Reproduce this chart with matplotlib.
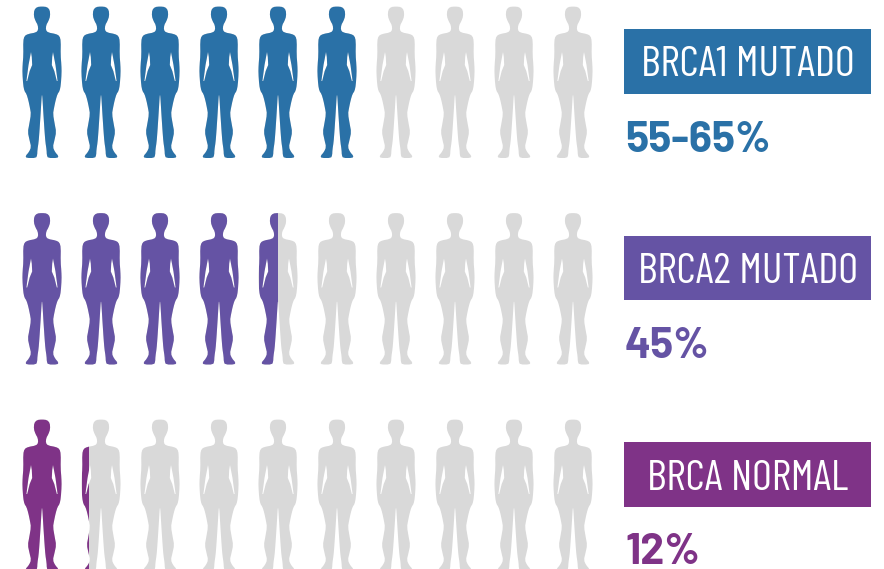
import matplotlib
matplotlib.use("Agg")
import matplotlib.pyplot as plt
import numpy as np
from matplotlib.path import Path
from matplotlib.patches import PathPatch, Rectangle
from matplotlib.transforms import Affine2D
from matplotlib import font_manager as fm

categories = ["BRCA1 MUTADO", "BRCA2 MUTADO", "BRCA NORMAL"]
value_labels = ["55-65%", "45%", "12%"]
filled_people = [6.0, 4.5, 1.2]
total_people = 10
colors = ["#2A71A7", "#6553A4", "#7F3387"]
grey = "#D9D9D9"

names = {f.name for f in fm.fontManager.ttflist}
if "Barlow Condensed" in names:
    label_font, label_size = "Barlow Condensed", 31
elif "Roboto Condensed" in names:
    label_font, label_size = "Roboto Condensed", 27
else:
    label_font, label_size = "Liberation Sans", 21
value_font = "Barlow" if "Barlow" in names else "Lato"

W, H = 884, 569
PX = 59.0      # horizontal pixels per person
PY = 206.5     # vertical pixels per row
fig = plt.figure(figsize=(W / 100, H / 100), dpi=100)
ax = fig.add_axes([0, 0, 1, 1])
ax.set_xlim(-42 / PX, (W - 42) / PX)
ax.set_ylim((H - 7) / PY, -7 / PY)
ax.axis("off")

# half silhouette: offset from centre, depth from top, in reference pixels
half = [(0, -.5), (5, 0), (7.8, 3), (8.2, 9), (6.5, 14), (4.2, 18), (3.8, 23), (6, 25.5), (14, 27), (17.5, 29),
        (18.8, 34), (18.6, 48), (19.4, 58), (19.6, 66), (18.8, 78), (17.6, 84), (15.5, 87), (13.7, 93), (12, 101),
        (11, 107), (12.7, 117), (14.2, 125), (12.5, 133), (10.8, 140), (13, 145), (16.5, 149), (15.5, 151),
        (6, 151), (4.8, 148), (4.6, 143), (3.4, 135), (2.6, 125), (1.6, 110), (.8, 97), (.3, 89), (0, 88)]
slit = [(11, 45), (13.5, 58), (15.6, 74), (14.8, 74), (12.3, 64), (9.8, 58), (10.2, 50)]

def area(r):
    a = np.array(r)
    return 0.5 * np.sum(a[:, 0] * np.roll(a[:, 1], -1) - np.roll(a[:, 0], -1) * a[:, 1])

def oriented(ring, sign):
    return ring if np.sign(area(ring)) == sign else ring[::-1]

def smooth(ring):
    a = np.array(ring)
    b = np.roll(a, -1, axis=0)
    out = np.empty((2 * len(a), 2))
    out[0::2] = .75 * a + .25 * b
    out[1::2] = .25 * a + .75 * b
    return [tuple(v) for v in out]

def compound():
    body = [(x, y) for x, y in half] + [(-x, y) for x, y in reversed(half[1:-1])]
    s = np.sign(area(body))
    verts, codes = [], []
    for ring in (smooth(body), oriented(slit, -s), oriented([(-x, y) for x, y in slit], -s)):
        verts += ring + [ring[0]]
        codes += [Path.MOVETO] + [Path.LINETO] * (len(ring) - 1) + [Path.CLOSEPOLY]
    return Path(verts, codes)

person = compound()
to_units = Affine2D().scale(1 / PX, 1 / PY)

for r, (cat, lab, n, col) in enumerate(zip(categories, value_labels, filled_people, colors)):
    for i in range(total_people):
        tr = to_units + Affine2D().translate(i, r) + ax.transData
        ax.add_patch(PathPatch(person, fc=grey, ec="none", transform=tr, zorder=2))
        frac = min(max(n - i, 0), 1)
        if frac > 0:
            p = PathPatch(person, fc=col, ec="none", transform=tr, zorder=3)
            ax.add_patch(p)
            if frac < 1:
                clip = Rectangle((i - 19.5 / PX, r - .02), frac * 39 / PX, .8, transform=ax.transData)
                p.set_clip_path(clip)
    ax.add_patch(Rectangle((582 / PX, r + 22 / PY), 247 / PX, 64.5 / PY, fc=col, ec="none", zorder=2))
    ax.text(705.5 / PX, r + 54.5 / PY, cat, color="white", family=label_font, fontsize=label_size, ha="center", va="center_baseline", zorder=4)
    ax.text(583 / PX, r + 129 / PY, lab, color=col, family=value_font, weight="bold", fontsize=31, ha="left", va="center_baseline", zorder=4)

fig.savefig("out.png", dpi=100)
